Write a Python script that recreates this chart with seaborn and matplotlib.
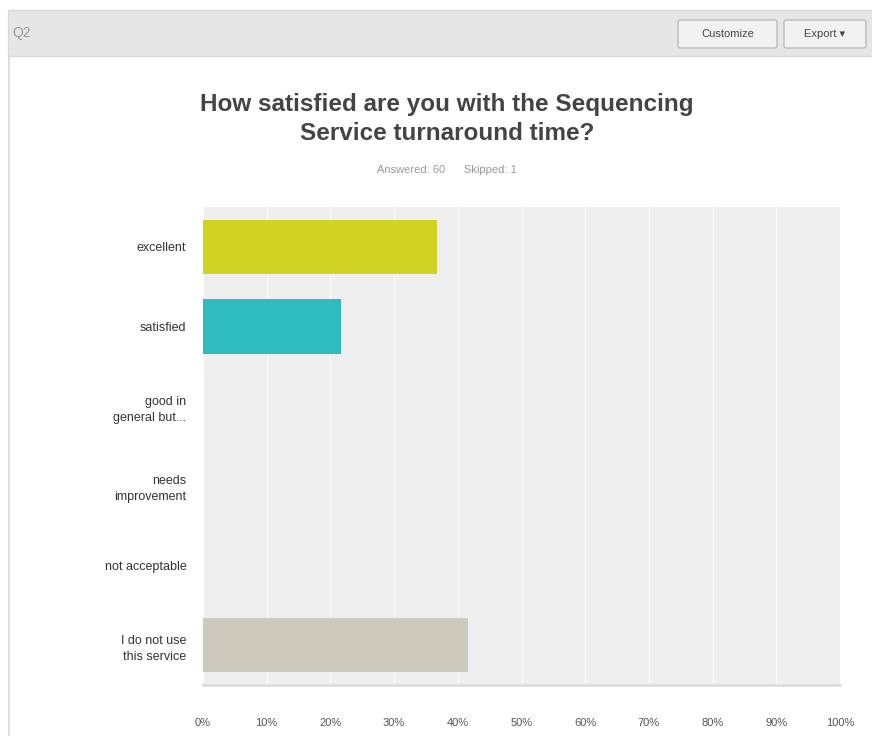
import matplotlib
matplotlib.use("Agg")
import matplotlib.pyplot as plt
from matplotlib.patches import Rectangle, FancyBboxPatch
from matplotlib.lines import Line2D
import seaborn as sns
import pandas as pd

# data (answers out of 60)
choices = ["excellent", "satisfied", "good in\ngeneral but...", "needs\nimprovement",
           "not acceptable", "I do not use\nthis service"]
percent = [36.67, 21.67, 0, 0, 0, 41.67]
bar_colors = ["#d0d322", "#2ebcc0", "#cccccc", "#cccccc", "#cccccc", "#cdcbbd"]
xticks = [0, 10, 20, 30, 40, 50, 60, 70, 80, 90, 100]

df = pd.DataFrame({"choice": choices, "percent": percent})

sns.set_style("white")
plt.rcParams["font.family"] = ["Liberation Sans", "DejaVu Sans"]

W, H = 872, 736
fig = plt.figure(figsize=(W / 100, H / 100), dpi=100)

def fx(px):
    return px / W

def fy(py):
    return 1 - py / H

# header strip
fig.patches.append(Rectangle((fx(8), fy(56)), fx(872 - 8), 46 / H, transform=fig.transFigure,
                             facecolor="#e6e6e6", edgecolor="#d8d8d8", lw=1))
fig.lines.append(Line2D([fx(8.5), fx(8.5)], [fy(56), 0], transform=fig.transFigure,
                        color="#d8d8d8", lw=1.2))
fig.text(fx(12), fy(33), "Q2", fontsize=10, color="#999999", va="center")
for x0, x1, lab in [(678, 777, "Customize"), (784, 866, "Export \u25be")]:
    fig.patches.append(FancyBboxPatch((fx(x0), fy(48)), fx(x1 - x0), 28 / H,
                                      boxstyle="round,pad=0,rounding_size=0.003",
                                      transform=fig.transFigure, facecolor="#f2f2f2",
                                      edgecolor="#bbbbbb", lw=1))
    fig.text(fx((x0 + x1) / 2), fy(34), lab, fontsize=8, color="#444444",
             ha="center", va="center")

# titles
fig.text(fx(447), fy(104), "How satisfied are you with the Sequencing", fontsize=17.5,
         fontweight="bold", color="#444444", ha="center", va="center")
fig.text(fx(447), fy(133), "Service turnaround time?", fontsize=17.5,
         fontweight="bold", color="#444444", ha="center", va="center")
fig.text(fx(447), fy(170), "Answered: 60      Skipped: 1", fontsize=8, color="#999999",
         ha="center", va="center")

ax = fig.add_axes([fx(203), fy(685), fx(840 - 203), (685 - 207) / H])
ax.set_facecolor("#efefef")
sns.barplot(data=df, x="percent", y="choice", hue="choice", palette=bar_colors,
            legend=False, width=0.68, ax=ax, saturation=1, edgecolor="none", linewidth=0)
ax.set_xlim(0, 100)
ax.set_xticks(xticks)
ax.set_xticklabels([f"{t}%" for t in xticks], fontsize=8, color="#555555")
ax.xaxis.grid(True, color="#fafafa", lw=1)
ax.set_axisbelow(True)
ax.tick_params(axis="x", length=0, pad=24)
ax.tick_params(axis="y", length=0, pad=12, labelsize=9, labelcolor="#333333")
for t in ax.get_yticklabels():
    t.set_ha("right")
    t.set_multialignment("right")
    t.set_linespacing(1.45)
ax.set_xlabel("")
ax.set_ylabel("")
for s in ax.spines.values():
    s.set_visible(False)
ax.spines["bottom"].set_visible(True)
ax.spines["bottom"].set_color("#dddddd")
ax.spines["bottom"].set_linewidth(2)

fig.savefig("out.png", dpi=100)
